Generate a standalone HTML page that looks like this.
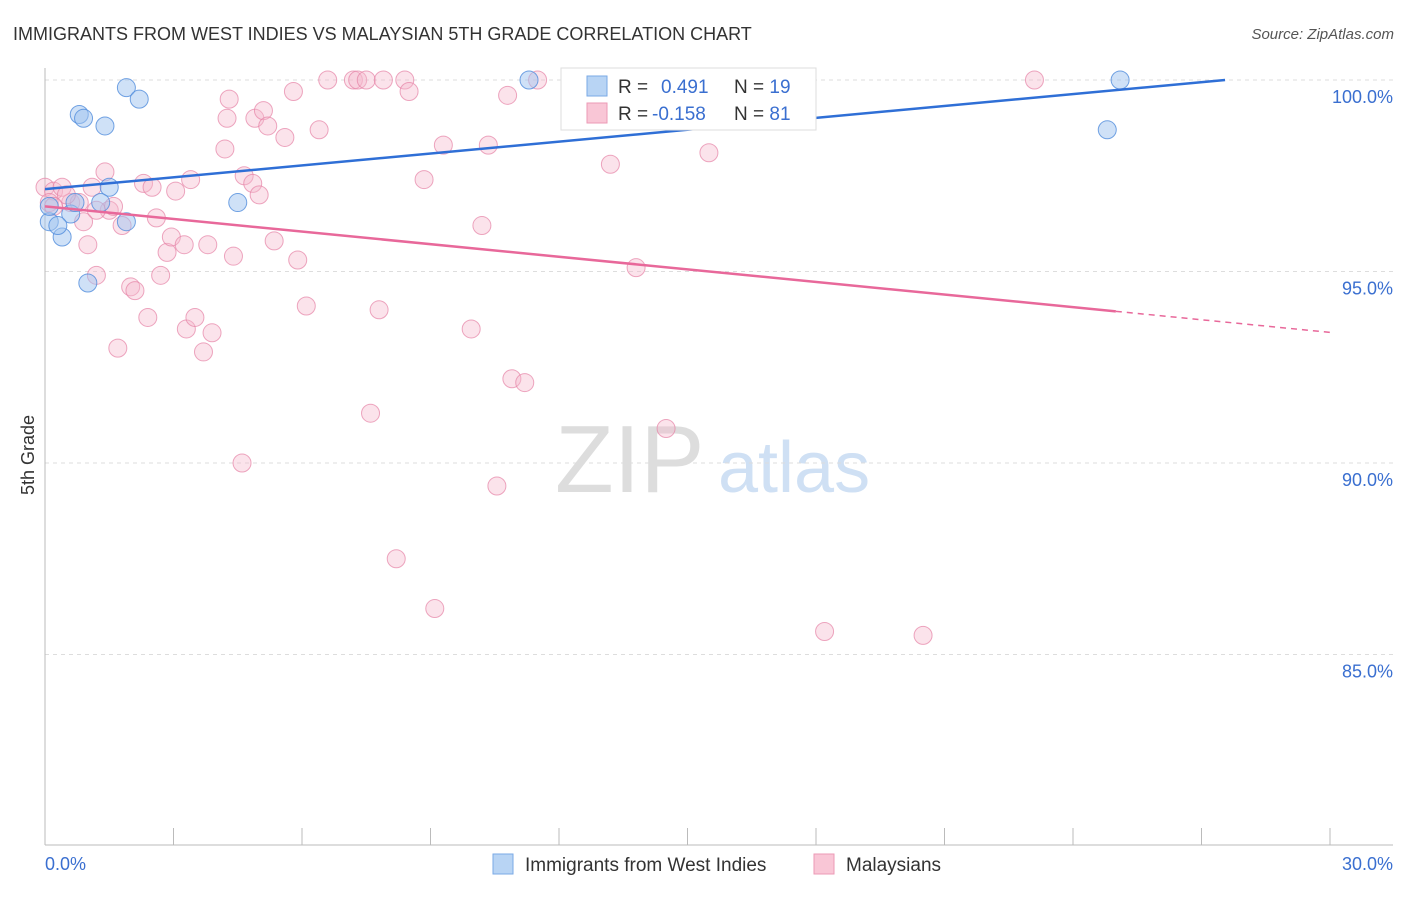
<!DOCTYPE html>
<html><head><meta charset="utf-8"><style>
body{margin:0;background:#fff;font-family:"Liberation Sans",sans-serif;}
svg text{font-family:"Liberation Sans",sans-serif;}
</style></head><body>
<svg id="c" width="1406" height="892" xmlns="http://www.w3.org/2000/svg">
<text x="13" y="40" font-size="18" fill="#333">IMMIGRANTS FROM WEST INDIES VS MALAYSIAN 5TH GRADE CORRELATION CHART</text>
<text x="1394" y="39" font-size="15" fill="#555" font-style="italic" text-anchor="end">Source: ZipAtlas.com</text>
<text x="34" y="455" font-size="18" fill="#333" transform="rotate(-90 34 455)" text-anchor="middle">5th Grade</text>
<text x="555" y="492" font-size="96" fill="#ddd" font-family="Liberation Serif">ZIP</text>
<text x="718" y="492" font-size="72" fill="#cfe0f4">atlas</text>
<g id="grid"></g><g id="pts"></g><g id="lines"></g>
<g>
<rect x="561" y="68" width="255" height="62" fill="#fff" stroke="#ddd"/>
<rect x="587" y="76" width="20" height="20" fill="#b8d4f4" stroke="#7aaae6"/>
<rect x="587" y="103" width="20" height="20" fill="#f9c6d6" stroke="#ec9ab6"/>
<text x="618" y="93" font-size="19" fill="#333">R = <tspan fill="#3a6fd0" x="661">0.491</tspan><tspan fill="#333" x="734">N = </tspan><tspan fill="#3a6fd0">19</tspan></text>
<text x="618" y="120" font-size="19" fill="#333">R = <tspan fill="#3a6fd0" x="652">-0.158</tspan><tspan fill="#333" x="734">N = </tspan><tspan fill="#3a6fd0">81</tspan></text>
</g>
<g>
<rect x="493" y="854" width="20" height="20" fill="#b8d4f4" stroke="#7aaae6"/>
<text x="525" y="871" font-size="19" fill="#333">Immigrants from West Indies</text>
<rect x="814" y="854" width="20" height="20" fill="#f9c6d6" stroke="#ec9ab6"/>
<text x="846" y="871" font-size="19" fill="#333">Malaysians</text>
</g>
<text x="45" y="870" font-size="18" fill="#3a6fd0">0.0%</text>
<text x="1393" y="870" font-size="18" fill="#3a6fd0" text-anchor="end">30.0%</text>
</svg>
<script>
const yTicks=[100,95,90,85];
const blueX=[1.9,2.2,0.8,0.9,1.4,1.5,4.5,1.3,0.6,0.4,1.9,0.1,0.3,1.0,11.3,25.1,24.8,0.7,0.1];
const blueY=[99.8,99.5,99.1,99.0,98.8,97.2,96.8,96.8,96.5,95.9,96.3,96.3,96.2,94.7,100,100,98.7,96.8,96.7];
const pinkX=[0.0,0.2,0.4,0.6,0.8,0.5,0.1,0.2,0.9,1.0,1.2,1.4,1.1,1.5,1.8,1.7,2.0,2.1,2.4,2.3,2.5,2.6,2.7,2.85,2.95,3.05,3.25,3.3,3.4,3.5,3.7,3.8,3.9,4.2,4.25,4.3,4.4,4.6,4.65,4.85,4.9,5.0,5.1,5.2,5.35,5.6,5.8,5.9,6.1,6.4,6.6,7.2,7.3,7.5,7.6,7.8,7.9,8.2,8.4,8.5,8.85,9.1,9.3,9.95,10.2,10.35,10.55,10.8,10.9,11.2,11.5,13.2,13.8,14.15,14.5,15.5,16.4,18.2,20.5,23.1,1.2,1.6];
const pinkY=[97.2,97.1,97.2,96.8,96.8,97.0,96.8,96.7,96.3,95.7,94.9,97.6,97.2,96.6,96.2,93.0,94.6,94.5,93.8,97.3,97.2,96.4,94.9,95.5,95.9,97.1,95.7,93.5,97.4,93.8,92.9,95.7,93.4,98.2,99.0,99.5,95.4,90.0,97.5,97.3,99.0,97.0,99.2,98.8,95.8,98.5,99.7,95.3,94.1,98.7,100,100,100,100,91.3,94.0,100,87.5,100,99.7,97.4,86.2,98.3,93.5,96.2,98.3,89.4,99.6,92.2,92.1,100,97.8,95.1,100,90.9,98.1,100,85.6,85.5,100,96.6,96.7];
const X=v=>45+v/30*1285, Y=v=>80+(100-v)*38.3;
const NS="http://www.w3.org/2000/svg";
const grid=document.getElementById('grid');
function mk(t,a,p){const e=document.createElementNS(NS,t);for(const k in a)e.setAttribute(k,a[k]);p.appendChild(e);return e;}
yTicks.forEach(t=>{
 const l=mk('line',{x1:45,x2:1393,y1:Y(t),y2:Y(t),stroke:'#ddd','stroke-dasharray':'4,4'},grid);
 
 
 const tx=mk('text',{x:1393,y:Y(t)+23,'font-size':18,fill:'#3a6fd0','text-anchor':'end'},grid);
 tx.textContent=t.toFixed(1)+'%';
 
 
});
const ax=mk('line',{x1:45,x2:45,y1:68,y2:845,stroke:'#bbb'},grid);


const bx=mk('line',{x1:45,x2:1393,y1:845,y2:845,stroke:'#bbb'},grid);


for(let i=1;i<=10;i++){const t=mk('line',{x1:X(i*3),x2:X(i*3),y1:828,y2:845,stroke:'#bbb'},grid);
 
 }
const pts=document.getElementById('pts');
pinkX.forEach((x,i)=>{const c=mk('circle',{cx:X(x),cy:Y(pinkY[i]),r:9,fill:'rgba(246,184,204,0.4)',stroke:'rgba(230,130,165,0.7)'},pts);
 
 });
blueX.forEach((x,i)=>{const c=mk('circle',{cx:X(x),cy:Y(blueY[i]),r:9,fill:'rgba(160,196,240,0.5)',stroke:'rgba(80,140,220,0.8)'},pts);
 
 });
const lines=document.getElementById('lines');
const bl=mk('line',{x1:X(0),y1:Y(97.15),x2:X(27.55),y2:Y(100),stroke:'#2f6fd6','stroke-width':2.5},lines);


const pl=mk('line',{x1:X(0),y1:Y(96.7),x2:X(25),y2:Y(93.96),stroke:'#e8689a','stroke-width':2.5},lines);


const pd=mk('line',{x1:X(25),y1:Y(93.96),x2:X(30),y2:Y(93.41),stroke:'#e8689a','stroke-width':1.5,'stroke-dasharray':'6,5'},lines);


</script>
</body></html>
